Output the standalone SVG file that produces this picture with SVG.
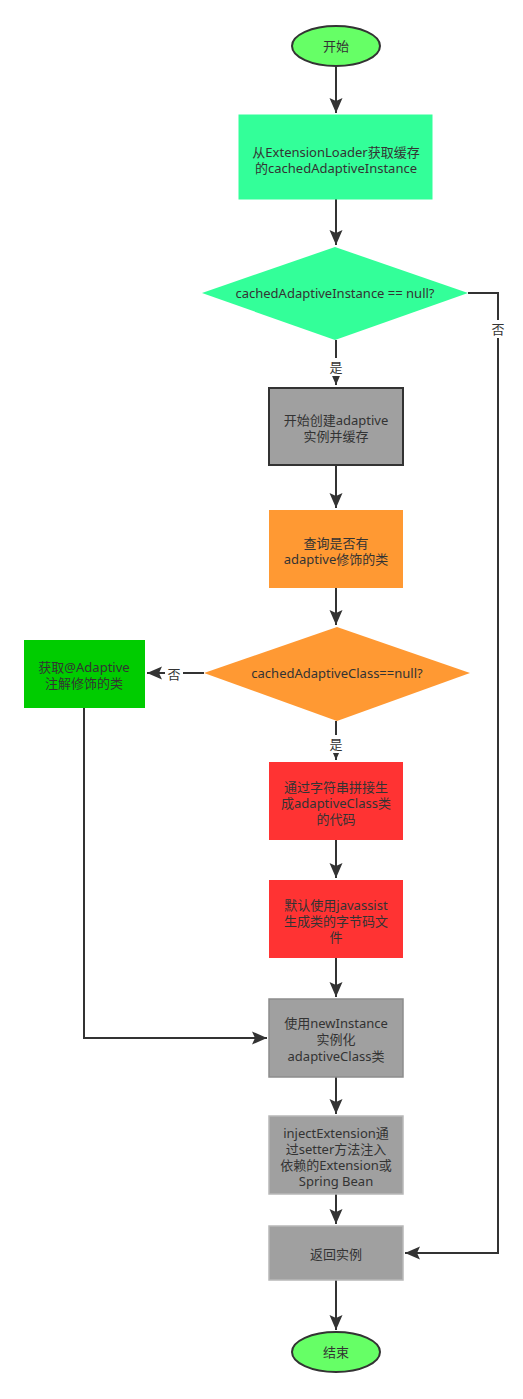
<svg xmlns="http://www.w3.org/2000/svg" width="523" height="1399" viewBox="0 0 523 1399">
<defs>
<marker id="arr" markerUnits="userSpaceOnUse" markerWidth="16" markerHeight="14" refX="15" refY="7" orient="auto">
<path d="M0,0.5 L15,7 L0,13.5 L3,7 Z" fill="#333333"/>
</marker>
</defs>
<style>
text{font-family:"Noto Sans","Noto Sans CJK SC",sans-serif;font-size:13px;fill:#333333;text-anchor:middle}
.c{fill:none;stroke:#333333;stroke-width:2}
.lbl{fill:#ffffff}
</style>
<rect width="523" height="1399" fill="#ffffff"/>
<g id="connectors">
<path class="c" d="M336,66 V113" marker-end="url(#arr)"/>
<path class="c" d="M336,199 V245" marker-end="url(#arr)"/>
<path class="c" d="M336,340 V385" marker-end="url(#arr)"/>
<path class="c" d="M468,293 H498 V1253 H405" marker-end="url(#arr)"/>
<path class="c" d="M336,465 V508" marker-end="url(#arr)"/>
<path class="c" d="M336,588 V625" marker-end="url(#arr)"/>
<path class="c" d="M204,673 H147" marker-end="url(#arr)"/>
<path class="c" d="M336,721 V760" marker-end="url(#arr)"/>
<path class="c" d="M336,840 V878" marker-end="url(#arr)"/>
<path class="c" d="M336,958 V997" marker-end="url(#arr)"/>
<path class="c" d="M84,708 V1038 H267" stroke="#444444" marker-end="url(#arr)"/>
<path class="c" d="M336,1077 V1114" marker-end="url(#arr)"/>
<path class="c" d="M336,1194 V1224" marker-end="url(#arr)"/>
<path class="c" d="M336,1280 V1330" marker-end="url(#arr)"/>
<rect class="lbl" x="489" y="320" width="18" height="18"/>
<text x="498" y="334">否</text>
<rect class="lbl" x="327" y="358" width="18" height="18"/>
<text x="336" y="372">是</text>
<rect class="lbl" x="165" y="665" width="18" height="18"/>
<text x="174" y="679">否</text>
<rect class="lbl" x="327" y="735" width="18" height="18"/>
<text x="336" y="749">是</text>
</g>
<g id="start">
<ellipse cx="336" cy="46" rx="44" ry="20" fill="#66FF66" stroke="#333333" stroke-width="2"/>
<text x="336" y="51">开始</text>
</g>
<g id="getCached">
<rect x="239" y="115" width="193" height="84" fill="#33FF99" stroke="#33FF99"/>
<text x="336" y="157">从ExtensionLoader获取缓存</text>
<text x="336" y="173">的cachedAdaptiveInstance</text>
</g>
<g id="decision1">
<polygon points="335,247 468,293 335,340 202,293" fill="#33FF99"/>
<text x="335" y="298">cachedAdaptiveInstance == null?</text>
</g>
<g id="createAdaptive">
<rect x="269" y="388" width="134" height="77" fill="#A0A0A0" stroke="#333333" stroke-width="2"/>
<text x="336" y="425">开始创建adaptive</text>
<text x="336" y="441">实例并缓存</text>
</g>
<g id="queryAdaptive">
<rect x="269" y="510" width="134" height="78" fill="#FF9933"/>
<text x="336" y="548">查询是否有</text>
<text x="336" y="564">adaptive修饰的类</text>
</g>
<g id="decision2">
<polygon points="337,627 470,673 337,721 204,673" fill="#FF9933"/>
<text x="337" y="678">cachedAdaptiveClass==null?</text>
</g>
<g id="getAnnotated">
<rect x="24" y="640" width="121" height="68" fill="#00CC00"/>
<text x="84" y="672">获取@Adaptive</text>
<text x="84" y="688">注解修饰的类</text>
</g>
<g id="genCode">
<rect x="269" y="762" width="134" height="78" fill="#FF3333"/>
<text x="336" y="792">通过字符串拼接生</text>
<text x="336" y="808">成adaptiveClass类</text>
<text x="336" y="824">的代码</text>
</g>
<g id="compile">
<rect x="269" y="880" width="134" height="78" fill="#FF3333"/>
<text x="336" y="910">默认使用javassist</text>
<text x="336" y="926">生成类的字节码文</text>
<text x="336" y="942">件</text>
</g>
<g id="newInstance">
<rect x="269" y="999" width="134" height="78" fill="#A0A0A0" stroke="#8C8C8C" stroke-width="1.5"/>
<text x="336" y="1028">使用newInstance</text>
<text x="336" y="1044">实例化</text>
<text x="336" y="1061">adaptiveClass类</text>
</g>
<g id="inject">
<rect x="269" y="1116" width="134" height="78" fill="#A0A0A0" stroke="#B8B8B8" stroke-width="1.5"/>
<text x="336" y="1138">injectExtension通</text>
<text x="336" y="1154">过setter方法注入</text>
<text x="336" y="1170">依赖的Extension或</text>
<text x="336" y="1186">Spring Bean</text>
</g>
<g id="returnInstance">
<rect x="269" y="1226" width="134" height="54" fill="#A0A0A0" stroke="#B8B8B8" stroke-width="1.5"/>
<text x="336" y="1259">返回实例</text>
</g>
<g id="end">
<ellipse cx="336" cy="1352" rx="44" ry="20" fill="#66FF66" stroke="#333333" stroke-width="2"/>
<text x="336" y="1357">结束</text>
</g>
</svg>
